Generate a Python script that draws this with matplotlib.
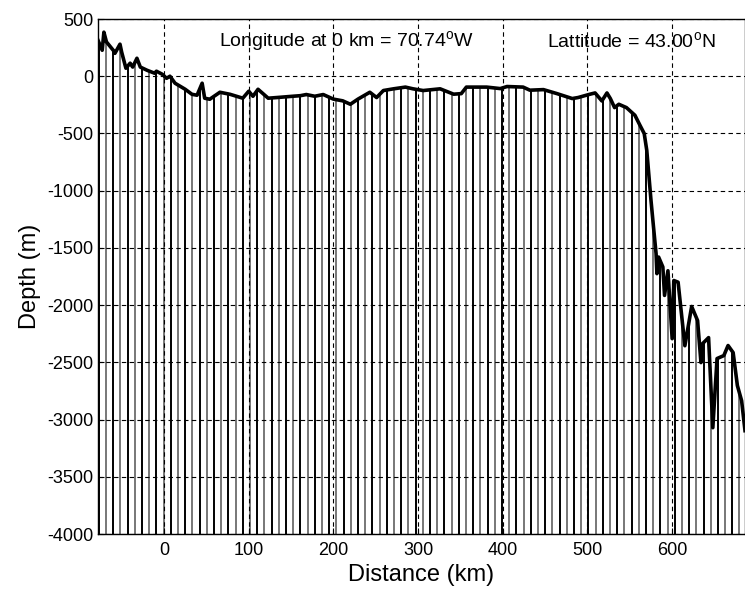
import numpy as np
import matplotlib
matplotlib.use('Agg')
import matplotlib.pyplot as plt

plt.rcParams['font.family'] = ['Liberation Sans', 'DejaVu Sans']
plt.rcParams['mathtext.fontset'] = 'custom'
plt.rcParams['mathtext.rm'] = 'Liberation Sans'
plt.rcParams['axes.unicode_minus'] = False

# profil bathymetrique (km, m)
distance_km = [-78, -73, -71, -68, -60, -58, -52, -50, -45, -40, -37, -32, -28,
               -20, -11, -9, -2, 3, 7, 13, 25, 33, 39, 45, 48, 54, 66, 78, 93,
               100, 105, 111, 123, 137, 152, 161, 168, 178, 188, 200, 211, 220,
               229, 243, 251, 259, 271, 285, 294, 306, 326, 342, 351, 357, 381,
               397, 405, 424, 432, 448, 464, 482, 489, 503, 509, 517, 523, 527,
               532, 537, 546, 556, 562, 567, 570, 575, 578, 581, 582, 584, 589,
               591, 595, 600, 602, 607, 615, 623, 630, 634, 636, 643, 648, 653,
               661, 666, 672, 677, 682, 686]
depth_m = [315, 227, 385, 300, 227, 200, 280, 210, 70, 114, 80, 157, 80,
           52, 26, 44, 17, -18, 0, -61, -114, -158, -166, -61, -192, -201,
           -140, -158, -192, -131, -175, -114, -192, -184, -175, -170, -160,
           -175, -160, -200, -215, -245, -200, -140, -186, -125, -110, -95,
           -110, -125, -110, -157, -152, -95, -95, -108, -90, -95, -122, -117,
           -152, -195, -186, -157, -146, -216, -146, -195, -274, -245, -274,
           -341, -429, -501, -647, -1085, -1320, -1550, -1725, -1580, -1667,
           -1915, -1700, -2293, -1785, -1800, -2355, -2012, -2135, -2502,
           -2336, -2284, -3071, -2467, -2441, -2353, -2415, -2703, -2835, -3097]

# stations (traits verticaux)
station_start = -77
station_step = 8.5
stations = np.arange(station_start, 690, station_step)

fig = plt.figure(figsize=(7.45, 5.94), dpi=100)
ax = fig.add_axes([0.1315, 0.101, 0.8685, 0.867])

ymin, ymax = -4000, 500
couleurs = ['black' if i % 2 == 0 else '#777777' for i in range(len(stations))]
ax.vlines(stations, ymin, ymax, colors=couleurs, linewidth=1.4, zorder=1)

# masque blanc au-dessus du fond
ax.fill_between(distance_km, depth_m, ymax, color='white', zorder=1.5, linewidth=0)
ax.plot(distance_km, depth_m, color='black', linewidth=2.6, zorder=3,
        solid_joinstyle='round')

ax.set_xlim(-78, 686)
ax.set_ylim(ymin, ymax)
ax.set_xticks(range(0, 700, 100))
ax.set_yticks(range(-4000, 501, 500))
ax.set_axisbelow(False)
ax.grid(True, color='black', linestyle=(0, (4, 3)), linewidth=0.8)
ax.tick_params(direction='in', labelsize=13, length=4)
ax.tick_params(axis='x', pad=6)
for s in ax.spines.values():
    s.set_linewidth(1.0)
    s.set_zorder(4)

ax.set_xlabel('Distance (km)', fontsize=17, labelpad=3)
ax.set_ylabel('Depth (m)', fontsize=17, labelpad=4)

ax.text(65, 300, r'Longitude at 0 km = 70.74$^{\rm o}$W', fontsize=14,
        va='center', ha='left', zorder=5)
ax.text(452, 300, r'Lattitude = 43.00$^{\rm o}$N', fontsize=14,
        va='center', ha='left', zorder=5)

fig.savefig('out.png', dpi=100)
